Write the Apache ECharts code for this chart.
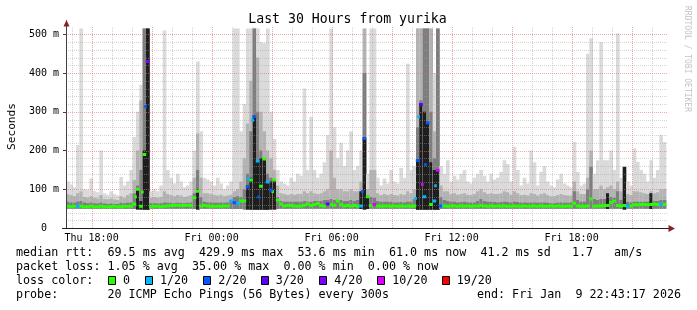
<!DOCTYPE html>
<html><head><meta charset="utf-8">
<script src="https://cdn.jsdelivr.net/npm/echarts@6.0.0/dist/echarts.min.js"></script>
<style>html,body{margin:0;padding:0;background:#fff}#c{width:697px;height:310px}</style>
</head><body><div id="c"></div>
<script>
// ---------- data ----------
const START_HOUR = 16 + 43/60 + 17/3600;   // Thu 16:43:17 (hours since Thu 00:00)
const SPAN_HOURS = 30;
const BIN_HOURS = 1/6;                      // 10-minute bins

const X_LABEL_HOURS = [18, 24, 30, 36, 42];
const X_LABELS = ['Thu 18:00', 'Fri 00:00', 'Fri 06:00', 'Fri 12:00', 'Fri 18:00'];
const X_MAJOR_HOURS = [18, 21, 24, 27, 30, 33, 36, 39, 42, 45];
const X_MINOR_HOURS = [17, 19, 20, 22, 23, 25, 26, 28, 29, 31, 32, 34, 35, 37, 38, 40, 41, 43, 44, 46];
const Y_LABEL_VALUES = [0, 100, 200, 300, 400, 500];
const Y_MINOR_VALUES = [20, 40, 60, 80, 120, 140, 160, 180, 220, 240, 260, 280, 320, 340, 360, 380, 420, 440, 460, 480];

// smoke (ms): bottom, light top, mid top, dark top, core top (0 = none)
const SMOKE_LOW = [
 50,50,50,50,50,50,50,50,50,50, 50,50,50,50,50,50,50,50,50,50,
 49,48,48,47,47,50,50,50,50,50, 50,50,50,50,50,50,50,50,49,48,
 50,50,50,50,50,50,50,50,50,49, 49,49,49,48,48,47,47,47,47,47,
 47,48,48,49,50,50,50,50,50,50, 50,50,50,50,50,50,50,50,50,50,
 50,50,50,50,50,50,50,50,49,48, 49,50,50,50,50,50,50,50,50,50,
 50,50,50,50,49,47,47,47,47,47, 47,47,49,50,50,50,50,50,50,50,
 50,50,50,50,50,50,50,50,50,50, 50,50,50,50,50,50,50,50,50,50,
 50,50,50,50,50,50,50,50,50,50, 50,50,50,50,50,50,50,50,50,50,
 50,50,49,50,50,50,49,48,50,50, 50,50,50,50,50,49,50,50,50,50
];
const SMOKE_MAX = [
 120,112,105,214,515,100,98,128,95,92,
 200,90,86,95,88,84,132,110,120,150,
 235,300,370,515,515,95,100,95,110,510,
 150,130,115,140,120,105,110,120,200,430,
 250,130,125,120,110,130,115,100,110,120,
 515,515,250,320,515,515,515,515,480,477,
 515,300,230,150,120,115,110,130,120,140,
 135,360,150,287,150,130,140,170,240,515,
 260,180,220,160,200,250,150,160,200,515,
 140,515,515,130,110,128,115,150,120,115,
 155,130,424,150,160,515,515,515,515,515,
 400,515,160,140,175,120,135,125,140,150,
 120,115,130,140,150,135,120,140,125,130,
 145,175,165,120,210,150,110,130,115,200,
 170,110,145,160,120,110,105,125,140,115,
 110,105,222,145,110,115,450,490,140,175,
 480,175,175,200,150,502,130,150,120,110,
 205,171,150,140,120,175,130,150,240,222
];
const SMOKE_MID = [
 88,85,82,90,95,80,78,82,78,76,
 85,75,74,76,74,72,82,78,85,90,
 124,200,330,515,515,78,80,78,80,95,
 88,85,82,85,84,80,82,85,130,244,
 130,90,90,88,85,84,86,82,84,86,
 95,100,120,180,270,380,515,440,300,250,
 200,180,150,110,90,88,85,88,86,88,
 88,95,90,95,90,88,90,95,100,200,
 130,100,100,95,95,100,95,95,120,515,
 100,150,150,90,85,88,85,88,85,84,
 88,86,95,90,100,515,515,515,515,515,
 250,515,110,95,95,88,90,86,88,90,
 86,85,88,95,100,92,88,90,88,88,
 90,95,92,86,95,90,85,86,84,90,
 88,84,88,90,85,82,82,85,88,85,
 84,84,120,95,88,88,130,200,100,100,
 110,100,105,110,100,120,95,90,88,85,
 95,95,92,90,88,95,90,92,100,100
];
const SMOKE_DARK = [
 68,66,65,68,70,66,64,66,64,63,
 66,63,62,63,62,62,65,64,65,66,
 89,110,150,515,515,64,64,63,64,66,
 65,65,64,65,65,64,65,66,90,150,
 80,68,66,66,65,65,66,65,66,68,
 80,82,80,100,140,250,515,300,200,180,
 140,130,125,80,70,68,68,68,68,68,
 68,70,68,68,70,70,70,72,72,75,
 72,72,72,70,70,72,70,72,90,400,
 85,80,78,70,68,68,68,68,66,66,
 67,66,68,68,75,260,330,515,515,300,
 180,515,80,72,70,68,68,66,67,68,
 66,66,66,70,75,70,68,68,67,66,
 67,68,67,66,68,67,66,66,65,66,
 66,65,66,66,65,64,64,65,66,65,
 65,66,95,72,68,68,100,158,75,72,
 75,75,75,80,78,95,72,70,68,66,
 68,68,68,68,68,70,70,70,72,72
];
const SMOKE_CORE = [
 0,0,0,0,0,0,0,0,0,0, 0,0,0,0,0,0,0,0,0,0,
 0,100,70,200,515,0,0,0,0,0, 0,0,0,0,0,0,0,0,0,100,
 0,0,0,0,0,0,0,0,0,0, 0,0,0,0,110,130,290,175,180,178,
 120,120,124,0,0,0,0,0,0,0, 0,0,0,0,0,0,0,0,0,0,
 0,0,0,0,0,0,0,0,95,231, 81,0,0,0,0,0,0,0,0,0,
 0,0,0,0,0,174,320,300,272,170, 150,150,0,0,0,0,0,0,0,0,
 0,0,0,0,0,0,0,0,0,0, 0,0,0,0,0,0,0,0,0,0,
 0,0,0,0,0,0,0,0,0,0, 0,0,0,0,0,0,0,0,0,0,
 0,0,90,0,0,0,0,158,0,0, 0,0,0,0,0,90,0,0,0,0
];
// median rtt (ms) per bin and its loss level index
const MEDIAN = [
 56,55,56,57,56,55,55,56,55,55,
 56,55,55,55,56,55,55,56,56,56,
 62,100,56,190,430,55,56,56,55,56,
 57,58,58,59,58,58,59,58,78,95,
 57,58,57,56,56,56,56,57,57,70,
 65,64,70,70,106,124,287,173,108,178,
 119,98,124,72,62,57,58,58,57,56,
 57,59,62,58,60,63,58,57,62,60,
 59,70,60,57,58,57,58,57,57,231,
 81,58,61,57,56,57,57,56,57,56,
 57,56,57,56,57,174,319,81,272,61,
 70,149,57,57,56,57,57,56,57,56,
 57,56,57,57,58,57,56,57,56,57,
 56,57,56,56,57,56,56,57,56,56,
 57,56,57,56,56,57,56,57,56,56,
 57,56,64,57,56,56,57,75,56,57,
 57,58,58,66,70,58,57,58,56,57,
 60,60,61,61,60,61,62,61,61,61
];
const LOSS = [
 0,0,0,1,0,0,0,0,0,0, 0,0,0,0,0,0,0,0,0,0,
 0,0,0,0,4,0,0,0,0,0, 0,0,0,0,0,0,0,0,0,0,
 0,0,0,0,0,0,0,0,0,1, 2,1,0,0,2,0,2,1,0,0,
 1,2,0,0,0,0,0,0,0,0, 0,0,0,0,0,0,0,0,3,0,
 0,0,0,0,0,0,0,0,1,2, 0,0,5,0,0,0,0,0,0,0,
 0,0,0,0,0,2,3,1,2,0, 1,5,1,0,0,0,0,0,0,0,
 0,0,0,0,0,0,0,0,0,0, 0,0,0,0,0,0,0,0,0,0,
 0,0,0,0,0,0,0,0,0,0, 0,0,0,0,0,0,0,0,0,0,
 0,0,0,0,0,0,0,0,1,0, 0,0,0,0,0,0,0,0,1,0
];
// additional median dots inside busy bins: [bin position, ms, loss level]
const EXTRA_MEDIAN = [
 [20.85,81,0],[22.9,93,0],[23.85,314,2],[54.8,128,1],[56.0,278,1],[57.8,80,2],
 [62.0,94,0],[88.9,94,2],[92.5,61,4],[104.85,76,1],[105.8,287,1],[106.9,112,5],
 [107.85,164,2],[110.85,109,1],[112.35,57,2]
];
const LOSS_LABELS = ['0', '1/20', '2/20', '3/20', '4/20', '10/20', '19/20'];
const LOSS_COLORS = ['#26ff00', '#00b8ff', '#0059ff', '#5e00ff', '#7e00ff', '#dd00ff', '#ff0000'];

const TITLE = 'Last 30 Hours from yurika';
const STAT_LINES = [
 'median rtt:  69.5 ms avg  429.9 ms max  53.6 ms min  61.0 ms now  41.2 ms sd   1.7   am/s',
 'packet loss: 1.05 % avg  35.00 % max  0.00 % min  0.00 % now',
 'loss color:',
 'probe:       20 ICMP Echo Pings (56 Bytes) every 300s'
];
const END_TEXT = 'end: Fri Jan  9 22:43:17 2026';

// ---------- style ----------
const MONO = '"DejaVu Sans Mono", monospace';
const SMOKE_COLORS = ['#dadada', '#b3b3b3', '#7e7e7e', '#1e1e1e'];
const Y_MAX = 535, Y_CAP = 516, GRID_TOP_VALUE = 520;
const END_HOUR = START_HOUR + SPAN_HOURS;

const smokeData = SMOKE_MAX.map((mx, i) => [
  START_HOUR + i * BIN_HOURS, START_HOUR + (i + 1) * BIN_HOURS,
  SMOKE_LOW[i], mx, SMOKE_MID[i], SMOKE_DARK[i], SMOKE_CORE[i]
]);

let medData = MEDIAN.map((v, i) => [START_HOUR + (i + 0.5) * BIN_HOURS, v, LOSS[i], 1]);
EXTRA_MEDIAN.forEach(([p, v, l]) => medData.push([START_HOUR + p * BIN_HOURS, v, l, 0]));
medData = medData.map((d, k) => [d, k]).sort((a, b) => (a[0][2] - b[0][2]) || (a[1] - b[1])).map(d => d[0]);

const gridData = [];
X_MINOR_HOURS.forEach(h => gridData.push([0, h, 0]));
Y_MINOR_VALUES.forEach(v => gridData.push([1, v, 0]));
X_MAJOR_HOURS.forEach(h => gridData.push([0, h, 1]));
Y_LABEL_VALUES.filter(v => v > 0).forEach(v => gridData.push([1, v, 1]));

function renderSmoke(params, api) {
  const x0 = api.value(0), x1 = api.value(1), lo = api.value(2);
  const tops = [api.value(3), api.value(4), api.value(5), api.value(6)];
  const children = [];
  tops.forEach((hi, k) => {
    if (!(hi > lo)) return;
    const a = api.coord([x0, Math.min(hi, Y_CAP)]);
    const b = api.coord([x1, lo]);
    children.push({ type: 'rect', shape: { x: a[0], y: a[1], width: b[0] - a[0] + 0.3, height: b[1] - a[1] },
      style: { fill: SMOKE_COLORS[k] } });
  });
  return { type: 'group', children };
}
function renderMedian(params, api) {
  const c = api.coord([api.value(0), api.value(1)]);
  const w = api.value(3) ? api.size([BIN_HOURS, 0])[0] + 0.4 : 2.6;
  return { type: 'rect', shape: { x: c[0] - w / 2, y: c[1] - 1.5, width: w, height: 3 },
    style: { fill: LOSS_COLORS[api.value(2)] } };
}
function renderGrid(params, api) {
  const vertical = api.value(0) === 0, v = api.value(1), major = api.value(2) === 1;
  let shape;
  if (vertical) {
    const a = api.coord([v, 0]), b = api.coord([v, GRID_TOP_VALUE]);
    const x = Math.round(a[0]) + 0.5;
    shape = { x1: x, y1: a[1], x2: x, y2: b[1] };
  } else {
    const a = api.coord([START_HOUR, v]), b = api.coord([END_HOUR + 0.1, v]);
    const y = Math.round(a[1]) + 0.5;
    shape = { x1: a[0], y1: y, x2: b[0], y2: y };
  }
  return { type: 'line', shape,
    style: { stroke: major ? 'rgba(235,110,110,0.6)' : 'rgba(160,160,160,0.45)', lineWidth: 1, lineDash: [1, 1] } };
}

const graphics = [];
graphics.push({ type: 'text', x: 347.5, y: 19.5, style: { text: TITLE, fontSize: 13.2, fontFamily: MONO, fill: '#000', align: 'center', verticalAlign: 'middle' } });
graphics.push({ type: 'text', x: 12, y: 126.5, rotation: Math.PI / 2, style: { text: 'Seconds', fontSize: 11.2, fontFamily: MONO, fill: '#000', align: 'center', verticalAlign: 'middle' } });
graphics.push({ type: 'text', x: 687.5, y: 59, rotation: -Math.PI / 2, style: { text: 'RRDTOOL / TOBI OETIKER', fontSize: 8, fontFamily: MONO, fill: '#c4c4c4', align: 'center', verticalAlign: 'middle' } });
const LINE_Y = [252.8, 266.9, 281, 295.1];
STAT_LINES.forEach((t, k) => graphics.push({ type: 'text', x: 16, y: LINE_Y[k], style: { text: t, fontSize: 11.7, fontFamily: MONO, fill: '#000', align: 'left', verticalAlign: 'middle' } }));
graphics.push({ type: 'text', x: 681, y: LINE_Y[3], style: { text: END_TEXT, fontSize: 11.7, fontFamily: MONO, fill: '#000', align: 'right', verticalAlign: 'middle' } });
const BOX_X = [108.5, 145.5, 203.5, 261.5, 319.5, 377.5, 442.5];
const LABEL_X = [123, 160, 218.3, 275.7, 334.3, 392.3, 456.7];
LOSS_LABELS.forEach((lab, k) => {
  graphics.push({ type: 'rect', shape: { x: BOX_X[k], y: 276.5, width: 7, height: 8 }, style: { fill: LOSS_COLORS[k], stroke: '#000', lineWidth: 1 } });
  graphics.push({ type: 'text', x: LABEL_X[k], y: LINE_Y[2], style: { text: lab, fontSize: 11.7, fontFamily: MONO, fill: '#000', align: 'left', verticalAlign: 'middle' } });
});
// axis arrows and left stub of the x axis
graphics.push({ type: 'polygon', shape: { points: [[63.5, 26.5], [69.5, 26.5], [66.5, 20]] }, style: { fill: '#8c2020' }, z: 20 });
graphics.push({ type: 'polygon', shape: { points: [[668.5, 225], [668.5, 232], [675, 228.5]] }, style: { fill: '#8c2020' }, z: 20 });
graphics.push({ type: 'line', shape: { x1: 62, y1: 228.5, x2: 66, y2: 228.5 }, style: { stroke: '#202020', lineWidth: 1 }, z: 20 });

const chart = echarts.init(document.getElementById('c'), null, { renderer: 'canvas', width: 697, height: 310 });
chart.setOption({
  animation: false,
  backgroundColor: '#fff',
  grid: { left: 66, right: 25, top: 20.8, bottom: 82, containLabel: false },
  xAxis: {
    type: 'value', min: START_HOUR, max: START_HOUR + 30.3, z: 10,
    axisLine: { show: true, lineStyle: { color: '#202020', width: 1 } },
    axisTick: { show: false },
    splitLine: { show: false },
    axisLabel: { customValues: X_LABEL_HOURS, margin: 5, fontSize: 10, fontFamily: MONO, color: '#000',
      formatter: v => X_LABELS[X_LABEL_HOURS.indexOf(Math.round(v))] || '' }
  },
  yAxis: {
    type: 'value', min: 0, max: Y_MAX, z: 10,
    axisLine: { show: true, lineStyle: { color: '#404040', width: 1 } },
    axisTick: { show: true, customValues: Y_LABEL_VALUES, length: 3, lineStyle: { color: '#404040' } },
    splitLine: { show: false },
    axisLabel: { customValues: Y_LABEL_VALUES, margin: 7, fontSize: 10, fontFamily: MONO, color: '#000',
      formatter: v => v === 0 ? '0  ' : v + ' m' }
  },
  series: [
    { type: 'custom', name: 'smoke', z: 2, silent: true, clip: true, renderItem: renderSmoke, data: smokeData },
    { type: 'custom', name: 'grid', z: 3, silent: true, clip: false, renderItem: renderGrid, data: gridData },
    { type: 'custom', name: 'median', z: 4, silent: true, clip: true, renderItem: renderMedian, data: medData }
  ],
  graphic: graphics
});
</script>
</body></html>
